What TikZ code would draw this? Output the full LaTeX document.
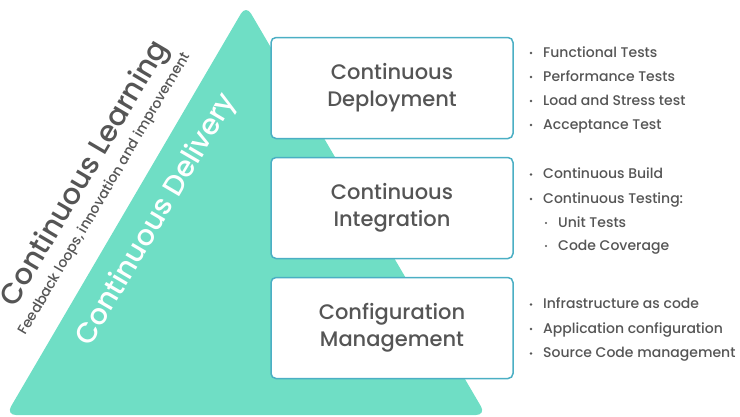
\documentclass[tikz,border=0pt]{standalone}
\usepackage{fontspec}
\setmainfont{Poppins Medium}
\usepackage{tikz}
\definecolor{mint}{HTML}{6FDEC5}
\definecolor{boxline}{HTML}{4BAFC4}
\definecolor{ink}{HTML}{555555}
\tikzset{
    stagebox/.style={draw=boxline, line width=1.5pt, fill=white, rounded corners=5pt,
        minimum width=242pt, minimum height=101pt, align=center, text=ink,
        font=\fontsize{21}{27}\selectfont},
    item/.style={anchor=base west, inner sep=0pt, text=ink, font=\fontsize{14}{16}\selectfont},
    side/.style={rotate=59.6, inner sep=0pt}
}

\begin{document}
\begin{tikzpicture}[x=1pt,y=-1pt]
    \useasboundingbox (0,0) rectangle (740,416);

    % Draw the pyramid
    \fill[mint, rounded corners=10pt] (246,5) -- (486,415) -- (6,415) -- cycle;

    % Side texts along the left edge
    \node[side, text=ink, font=\fontsize{29}{30}\selectfont] (learning) at (86,174) {Continuous Learning};
    \node[side, text=ink, font=\fontsize{14}{14}\selectfont] (feedback) at (105,194) {Feedback loops, innovation and improvement};
    \node[side, text=white, font=\fontsize{28.5}{30}\selectfont] (delivery) at (157,220) {Continuous Delivery};

    % Stage boxes
    \node[stagebox] (deploy) at (392,88) {Continuous\\Deployment};
    \node[stagebox] (integr) at (392,208) {Continuous\\Integration};
    \node[stagebox] (config) at (392,328) {Configuration\\Management};

    % Bullet lists
    \foreach \txt [count=\i] in {Functional Tests, Performance Tests, Load and Stress test, Acceptance Test} {
        \node[item] (deploy\i) at (543,33+24*\i) {\txt};
        \fill[ink] (531,29+24*\i) circle (1.3);
    }
    \foreach \txt [count=\i] in {Continuous Build, Continuous Testing:} {
        \node[item] (integr\i) at (543,154+24.5*\i) {\txt};
        \fill[ink] (531,150+24.5*\i) circle (1.3);
    }
    \foreach \txt [count=\i] in {Unit Tests, Code Coverage} {
        \node[item] (unit\i) at (558,204+23*\i) {\txt};
        \fill[ink] (546,200+23*\i) circle (1.1);
    }
    \foreach \txt [count=\i] in {Infrastructure as code, Application configuration, Source Code management} {
        \node[item] (config\i) at (543,284+24.5*\i) {\txt};
        \fill[ink] (531,280+24.5*\i) circle (1.3);
    }
\end{tikzpicture}
\end{document}
